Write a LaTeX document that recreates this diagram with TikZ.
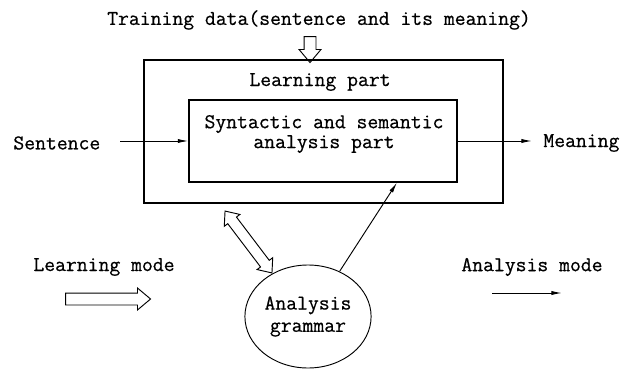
\documentclass[tikz,border=0pt]{standalone}
\usepackage{fontspec}
\newfontfamily\typefont[FakeBold=0.6]{Latin Modern Mono}
\usetikzlibrary{
  	positioning,
  	arrows.meta,
  	shapes.arrows,
  	shapes.geometric,
  	calc
  }
\tikzstyle{txt}=[font=\typefont\fontsize{18}{17}\selectfont, inner sep=1pt]
\tikzstyle{box}=[draw, line width=1pt]
\tikzstyle{flow}=[-{Latex[length=9pt,width=3.5pt]}, line width=0.8pt]
\tikzstyle{hollow}=[single arrow, draw, line width=0.8pt, inner xsep=0pt, inner ysep=0.165cm,
  single arrow head extend=0.15cm, single arrow tip angle=80]
\tikzstyle{hollowboth}=[double arrow, draw, line width=0.8pt, inner xsep=0pt, inner ysep=0.15cm,
  double arrow head extend=0.13cm, double arrow tip angle=80]

\begin{document}
\begin{tikzpicture}[x=0.03cm, y=-0.03cm]
	\useasboundingbox (0,0) rectangle (621,370);
	\node[txt] at (319,20) (train) {Training data(sentence and its meaning)};
	\node[box, minimum width=10.77cm, minimum height=4.29cm] at (323.5,131.5) (outer) {};
	\node[txt] at (320,82) (learn) {Learning part};
	\node[box, minimum width=8.04cm, minimum height=2.46cm] at (323,141) (inner) {};
	\node[txt, align=center] at (324,134) (sa) {Syntactic and semantic\\analysis part};
	\node[draw, ellipse, line width=0.8pt, minimum width=3.42cm, minimum height=3.09cm,
		txt, font=\typefont\fontsize{18}{19}\selectfont, align=center] at (308,316.5) (grammar) {Analysis\\grammar};
	\node[txt, anchor=west] at (12,143) (sent) {Sentence};
	\node[txt, anchor=west] at (542,143) (mean) {Meaning};
	\node[txt, anchor=west] at (32,267) (lmode) {Learning mode};
	\node[txt, anchor=west] at (460,267) (amode) {Analysis mode};
%
	\node[hollow, rotate=-90, minimum height=0.78cm] at (310,46) (tarrow) {};
	\node[hollow, minimum height=2.55cm] at (104.5,299) (larrow) {};
%
	\coordinate (sin) at (120,141);
	\coordinate (mout) at (532,141);
	\coordinate (gin) at ($(inner.south)+(74,0)$);
	\coordinate (dtop) at (225,211);
	\coordinate (dbot) at (272,273);
	\coordinate (a1) at (492,293);
	\coordinate (a2) at (562,293);
%
	\draw [flow] (sin) -- (inner.west);
	\draw [flow] (inner.east) -- (mout);
	\draw [flow] (grammar.55) -- (gin);
	\draw [flow] (a1) -- (a2);
	\path (dtop) -- (dbot) node[midway, sloped, hollowboth, minimum height=2.33cm] (darrow) {};
\end{tikzpicture}
\end{document}
